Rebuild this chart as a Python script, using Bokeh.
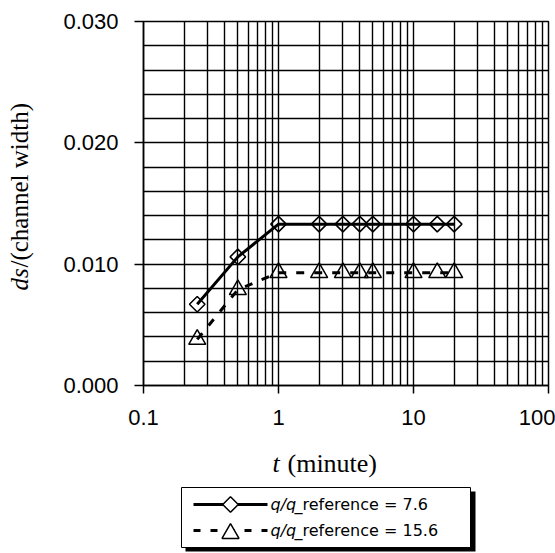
import numpy as np
from bokeh.plotting import figure
from bokeh.models import Range1d, FixedTicker, PrintfTickFormatter, CustomJSTickFormatter
from bokeh.layouts import column, row
from bokeh.embed import file_html
from bokeh.resources import INLINE
from bokeh.core.properties import value

# elapsed time (minutes) and scour depth ratio for the two flow ratios
t_min = [0.25, 0.5, 1, 2, 3, 4, 5, 10, 15, 20]
ds_q76 = [0.0067, 0.0106, 0.0133, 0.0133, 0.0133, 0.0133, 0.0133, 0.0133, 0.0133, 0.0133]
ds_q156 = [0.0038, 0.0079, 0.0093, 0.0093, 0.0093, 0.0093, 0.0093, 0.0093, 0.0093, 0.0093]
series_ratio = ["7.6", "15.6"]

x_major = [0.1, 1, 10, 100]
x_minor = [0.2, 0.3, 0.4, 0.5, 0.6, 0.7, 0.8, 0.9,
           2, 3, 4, 5, 6, 7, 8, 9,
           20, 30, 40, 50, 60, 70, 80, 90]
y_major = [0.0, 0.01, 0.02, 0.03]
y_minor = [0.002, 0.004, 0.006, 0.008, 0.012, 0.014, 0.016, 0.018,
           0.022, 0.024, 0.026, 0.028]

SERIF = value("Liberation Serif")
SANS = value("DejaVu Sans")


def blank_panel(**kw):
    f = figure(output_backend="svg", toolbar_location=None,
               x_axis_location=None, y_axis_location=None, **kw)
    f.grid.visible = False
    f.outline_line_color = None
    f.background_fill_color = "white"
    f.border_fill_color = "white"
    return f


# main chart
p = figure(width=515, height=440, x_axis_type="log",
           x_range=Range1d(0.1, 100), y_range=Range1d(0, 0.03),
           output_backend="svg", toolbar_location=None,
           min_border_left=103, min_border_right=7,
           min_border_top=21, min_border_bottom=55)
p.background_fill_color = "white"
p.border_fill_color = "white"
p.outline_line_color = "black"
p.outline_line_width = 1.5

xt = FixedTicker(ticks=x_major, minor_ticks=x_minor)
yt = FixedTicker(ticks=y_major, minor_ticks=y_minor)
p.xaxis.ticker = xt
p.yaxis.ticker = yt
p.xgrid.ticker = xt
p.ygrid.ticker = yt
for g in (p.xgrid, p.ygrid):
    g.grid_line_color = "black"
    g.grid_line_width = 1.4
    g.minor_grid_line_color = "black"
    g.minor_grid_line_width = 1.4

p.xaxis.formatter = CustomJSTickFormatter(code="return String(tick);")
p.yaxis.formatter = PrintfTickFormatter(format="%.3f")
for ax in (p.xaxis, p.yaxis):
    ax.axis_line_color = "black"
    ax.axis_line_width = 1.5
    ax.major_tick_line_color = "black"
    ax.major_tick_line_width = 1.5
    ax.major_tick_in = 0
    ax.minor_tick_line_color = None
    ax.major_label_text_font = "Liberation Sans"
    ax.major_label_text_font_size = "22px"
    ax.major_label_text_color = "black"
p.xaxis.major_tick_out = 8
p.xaxis.major_label_standoff = 16
p.yaxis.major_tick_out = 9
p.yaxis.major_label_standoff = 16

p.line(t_min, ds_q76, line_color="black", line_width=3)
p.scatter(t_min, ds_q76, marker="square", angle=np.pi / 4, size=11,
          fill_color=None, line_color="black", line_width=1.5)
p.line(t_min, ds_q156, line_color="black", line_width=3, line_dash="8 10")
p.scatter(t_min, ds_q156, marker="triangle", size=17,
          fill_color=None, line_color="black", line_width=1.5)

# vertical title strip on the left (coordinates in page pixels)
ytitle = blank_panel(width=40, height=553, x_range=Range1d(0, 40), y_range=Range1d(385, 21),
                     min_border_left=0, min_border_right=0,
                     min_border_top=21, min_border_bottom=168)
ytitle.text(x=[19], y=[290], text=["ds"], angle=np.pi / 2, text_font=SERIF,
            text_font_style="italic", text_font_size="25px",
            text_baseline="middle", text_align="left", text_color="black")
ytitle.text(x=[19], y=[267], text=["/(channel width)"], angle=np.pi / 2, text_font=SERIF,
            text_font_size="25px", text_baseline="middle", text_align="left",
            text_color="black")

# x title and legend strip under the chart (coordinates in page pixels)
lg = blank_panel(width=515, height=113, x_range=Range1d(143, 548), y_range=Range1d(553, 440),
                 min_border_left=103, min_border_right=7, min_border_top=0, min_border_bottom=0)
lg.text(x=[272], y=[463], text=["t"], text_font=SERIF, text_font_style="italic",
        text_font_size="26px", text_baseline="middle", text_align="left", text_color="black")
lg.text(x=[287], y=[463], text=["(minute)"], text_font=SERIF,
        text_font_size="26px", text_baseline="middle", text_align="left", text_color="black")

lg.quad(left=[185], right=[475], top=[491], bottom=[551], fill_color="black", line_color=None)
lg.quad(left=[181], right=[470], top=[487], bottom=[547], fill_color="white",
        line_color="black", line_width=1)

row_y = [504, 530]
lg.line([193, 267], [row_y[0], row_y[0]], line_color="black", line_width=3)
lg.scatter([230], [row_y[0]], marker="square", angle=np.pi / 4, size=11,
           fill_color="white", line_color="black", line_width=1.5)
lg.line([193, 267], [row_y[1], row_y[1]], line_color="black", line_width=3, line_dash="7 10")
lg.scatter([230], [row_y[1] + 3], marker="triangle", size=17,
           fill_color="white", line_color="black", line_width=1.5)

lg.text(x=[270, 270], y=row_y, text=["q/q", "q/q"], text_font=SANS,
        text_font_style="italic", text_font_size="16px", text_baseline="middle",
        text_align="left", text_color="black")
lg.text(x=[294, 294], y=row_y, text=["_reference = " + r for r in series_ratio],
        text_font=SANS, text_font_size="16px", text_baseline="middle",
        text_align="left", text_color="black")

layout = row(ytitle, column(p, lg, spacing=0), spacing=0)
open("out.html", "w").write(file_html(layout, INLINE))
